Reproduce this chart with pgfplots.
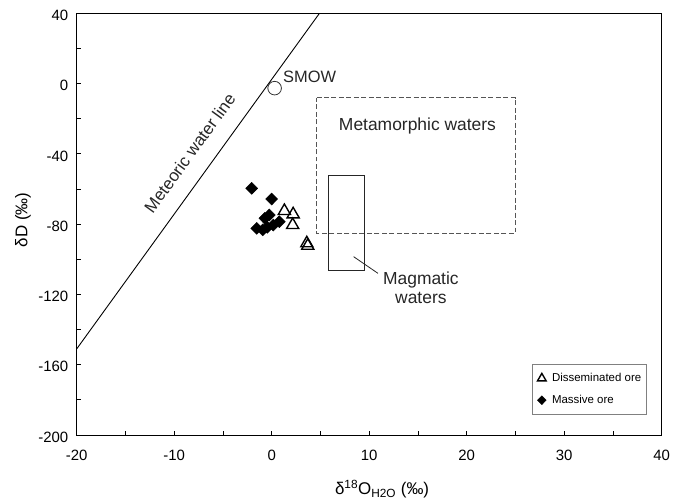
\documentclass[border=0pt]{standalone}
\usepackage{fontspec}
\setmainfont{Liberation Sans}
\usepackage{pgfplots}
\pgfplotsset{compat=1.18}
\definecolor{dashgray}{HTML}{555555}
\begin{document}
\begin{tikzpicture}
\path[use as bounding box] (-76.7bp,-69bp) rectangle (607.3bp,435bp);
\begin{axis}[
  at={(0,0)}, anchor=south west,
  scale only axis, width=585bp, height=421.7bp,
  xmin=-20, xmax=40, ymin=-200, ymax=40,
  xtick={-20,-10,...,40}, minor xtick={-15,-5,...,35},
  ytick={-200,-160,...,40}, minor ytick={-180,-140,...,20},
  tick pos=left, tick align=inside,
  major tick length=4.5bp, minor tick length=4.5bp,
  every tick/.style={black, line width=0.8pt},
  axis line style={black, line width=0.9pt},
  /pgf/number format/assume math mode=true,
  ticklabel style={font=\fontsize{15}{18}\selectfont},
  xticklabel style={yshift=-12pt},
  yticklabel style={xshift=-5pt, yshift=-2pt},
  xlabel={δ\textsuperscript{18}O\textsubscript{H2O} (‰)},
  ylabel={δD (‰)},
  label style={font=\fontsize{17}{20}\selectfont},
  xlabel style={at={(axis description cs:0.522,-0.128)}, anchor=center},
  ylabel style={at={(axis description cs:-0.092,0.51)}, anchor=center},
  clip=false,
  legend style={at={(0.974,0.049)}, anchor=south east, draw=gray, line width=0.6pt,
    font=\fontsize{11.5}{13}\selectfont, row sep=8pt, inner xsep=3pt, inner ysep=7pt,
    cells={anchor=west}},
  legend image code/.code={\path (0cm,0cm) (0.5cm,0cm);
     \draw[#1, every mark/.append style={scale=0.72}] plot coordinates {(0.22cm,0cm)};},
]
% Meteoric water line
\addplot[black, line width=0.9pt, forget plot] coordinates {(-20,-151) (4.9,40)};
% Metamorphic waters box
\addplot[dashgray, line width=1.1pt, dash pattern=on 5pt off 2.5pt, forget plot]
  coordinates {(4.6,-8) (25,-8) (25,-85.2) (4.6,-85.2) (4.6,-8)};
% Magmatic waters box
\addplot[black!85, line width=0.8pt, forget plot]
  coordinates {(5.85,-52.2) (9.55,-52.2) (9.55,-106.5) (5.85,-106.5) (5.85,-52.2)};
% leader line
\addplot[black!85, line width=0.8pt, forget plot] coordinates {(8.4,-98.5) (10.9,-108)};
% SMOW
\addplot[only marks, mark=o, mark size=6.8bp, mark options={line width=0.8pt, black!80}, forget plot]
  coordinates {(0.3,-2.6)};
% Disseminated ore
\addplot[only marks, mark=triangle, mark size=7bp, mark options={line width=1.4pt, black}]
  coordinates {(1.3,-72.5) (2.2,-74.4) (2.15,-80.5) (3.6,-90.9) (3.7,-92.3)};
\addlegendentry{Disseminated ore}
% Massive ore
\addplot[only marks, mark=diamond*, mark size=6bp, mark options={black, xscale=1.33}]
  coordinates {(-2.05,-59.6) (0.0,-65.7) (-0.25,-74.8) (-0.7,-76.7)
   (-1.54,-82.4) (-0.92,-83.3) (-0.45,-81.8) (0.16,-80.5) (0.78,-78.6)};
\addlegendentry{Massive ore}
% Annotations
\node[anchor=west, font=\fontsize{16.5}{19}\selectfont, text=black!85, inner sep=0pt] at (axis cs:1.15,3.7) {SMOW};
\node[font=\fontsize{17.5}{20}\selectfont, text=black!85] at (axis cs:14.95,-24) {Metamorphic waters};
\node[font=\fontsize{17.5}{19}\selectfont, text=black!85, align=center, inner sep=0pt] at (axis cs:15.3,-116.3) {Magmatic\\waters};
\node[rotate=54, font=\fontsize{17}{19}\selectfont, text=black!85] at (axis cs:-8.4,-39.6) {Meteoric water line};
\end{axis}
\end{tikzpicture}
\end{document}
